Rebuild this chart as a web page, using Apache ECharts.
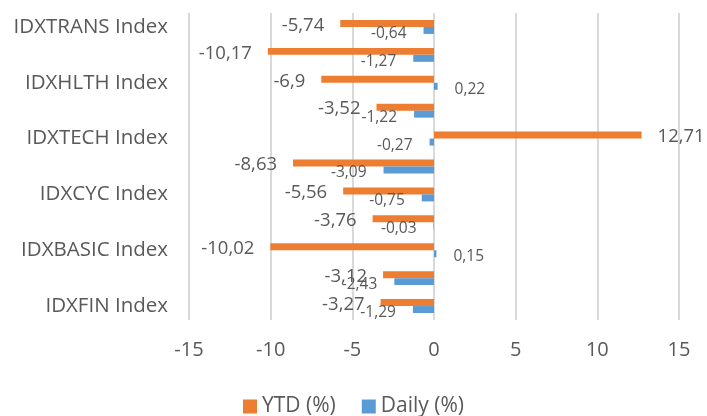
<!DOCTYPE html>
<html>
<head>
<meta charset="utf-8">
<script src="https://cdn.jsdelivr.net/npm/echarts@6/dist/echarts.min.js"></script>
<style>
  html, body { margin: 0; padding: 0; background: #fff; }
  #chart { width: 707px; height: 416px; }
</style>
</head>
<body>
<div id="chart"></div>
<script>
// bottom to top, as the chart reads upwards
var categories = ['IDXFIN Index', 'IDXPROPERT Index', 'IDXBASIC Index', 'IDXINDUST Index',
  'IDXCYC Index', 'IDXNONCYC Index', 'IDXTECH Index', 'IDXENERGY Index',
  'IDXHLTH Index', 'IDXINFRA Index', 'IDXTRANS Index'];
var ytd = [-3.27, -3.12, -10.02, -3.76, -5.56, -8.63, 12.71, -3.52, -6.9, -10.17, -5.74];
var daily = [-1.29, -2.43, 0.15, -0.03, -0.75, -3.09, -0.27, -1.22, 0.22, -1.27, -0.64];
var xTicks = [-15, 15, 5]; // min, max, step

var textColor = '#595959';
var font = 'Open Sans';

function comma(p) {
  return String(p.value).replace('.', ',');
}

function withLabels(arr, size, dy) {
  return arr.map(function (v) {
    return {
      value: v,
      label: {
        position: v < 0 ? 'left' : 'right',
        fontSize: size,
        offset: [0, dy]
      }
    };
  });
}

var chart = echarts.init(document.getElementById('chart'));
chart.setOption({
  backgroundColor: '#fff',
  animation: false,
  textStyle: { fontFamily: font, color: textColor },
  grid: { left: 189, right: 28, top: 13, bottom: 96 },
  legend: {
    top: 391,
    left: 'center',
    icon: 'rect',
    itemWidth: 14,
    itemHeight: 14,
    itemGap: 26,
    textStyle: { fontSize: 21, color: textColor, fontFamily: font },
    data: ['YTD (%)', 'Daily (%)']
  },
  xAxis: {
    type: 'value',
    min: xTicks[0],
    max: xTicks[1],
    interval: xTicks[2],
    axisLine: { show: false },
    axisTick: { show: false },
    splitLine: { lineStyle: { color: '#d9d9d9', width: 2 } },
    axisLabel: { fontSize: 20, color: textColor, margin: 20 }
  },
  yAxis: {
    type: 'category',
    data: categories,
    axisLine: { show: false },
    axisTick: { show: false },
    axisLabel: { interval: 1, fontSize: 20.5, color: textColor, margin: 21 }
  },
  series: [
    {
      name: 'YTD (%)',
      type: 'bar',
      data: withLabels(ytd, 18.5, 2),
      barGap: '0%',
      barCategoryGap: '50%',
      itemStyle: { color: '#ED7D31' },
      label: { show: true, distance: 16, color: textColor, formatter: comma }
    },
    {
      name: 'Daily (%)',
      type: 'bar',
      data: withLabels(daily, 15.5, 3),
      itemStyle: { color: '#5B9BD5' },
      label: { show: true, distance: 17, color: textColor, formatter: comma }
    }
  ]
});
</script>
</body>
</html>
